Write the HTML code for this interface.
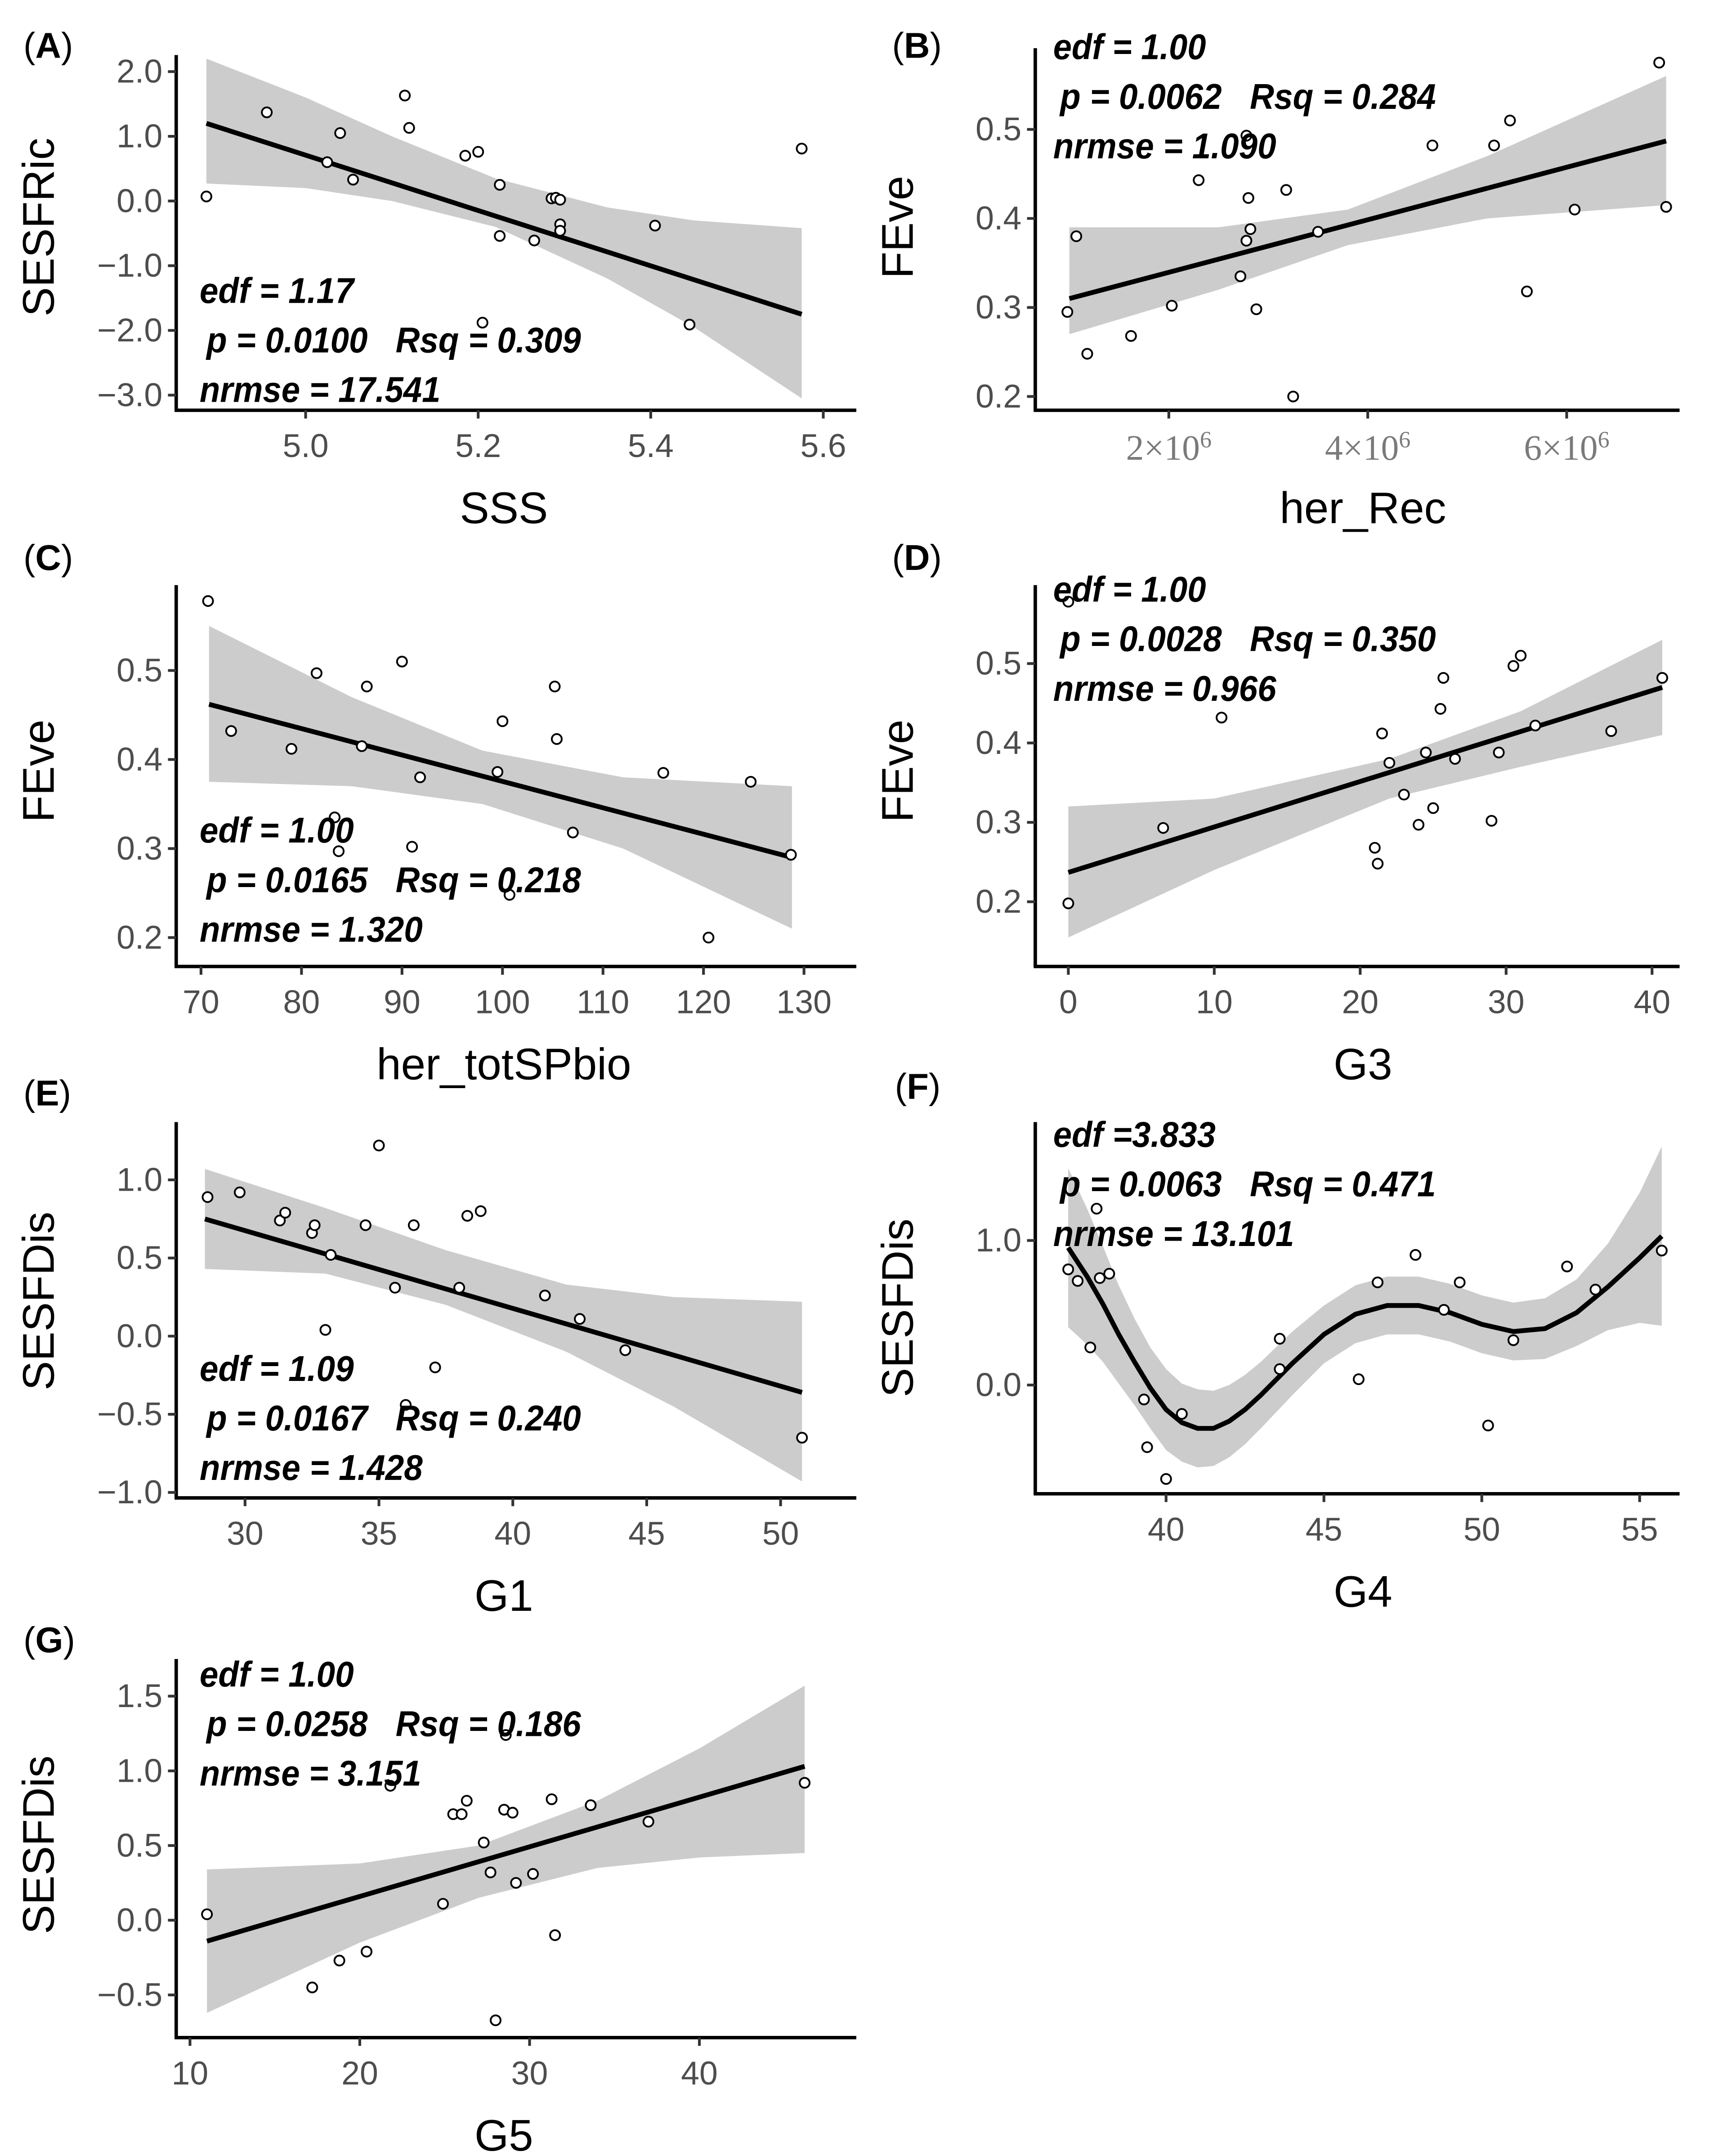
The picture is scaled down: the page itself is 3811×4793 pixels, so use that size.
<!DOCTYPE html>
<html><head><meta charset="utf-8">
<style>
html,body{margin:0;padding:0;background:#fff;}
svg{display:block;}
.tick{font-family:"Liberation Sans",sans-serif;font-size:24px;fill:#4d4d4d;}
.serif{font-family:"Liberation Serif",serif;font-size:26px;fill:#7a7a7a;}
.title{font-family:"Liberation Sans",sans-serif;font-size:32px;fill:#000;}
.plab{font-family:"Liberation Sans",sans-serif;font-size:26px;fill:#000;}
.ann{font-family:"Liberation Sans Narrow","Liberation Sans",sans-serif;font-size:26px;font-weight:bold;font-style:italic;fill:#000;white-space:pre;}
</style></head>
<body>
<svg id="fig" width="3811" height="4793" viewBox="0 0 1245 1566" preserveAspectRatio="none" xmlns="http://www.w3.org/2000/svg"></svg>
<script>
// Panel A data
const aX=[4.885,4.955,5.025,5.04,5.055,5.115,5.12,5.185,5.2,5.205,5.225,5.225,5.265,5.285,5.29,5.295,5.295,5.295,5.405,5.445,5.575];
const aY=[0.07,1.37,0.6,1.05,0.33,1.63,1.13,0.7,0.76,-1.88,0.25,-0.54,-0.61,0.04,0.05,0.02,-0.36,-0.46,-0.38,-1.91,0.81];
const aFitX=[4.885,5.575];const aFitY=[1.2,-1.75];
const aBandX=[4.885,5.0,5.1,5.22,5.35,5.45,5.575];
const aBandHi=[2.2,1.6,1.0,0.35,-0.1,-0.3,-0.42];
const aBandLo=[0.27,0.2,0.0,-0.4,-1.2,-1.95,-3.05];
// Panel B data (x in millions)
const bX=[0.98,1.07,1.18,1.62,2.03,2.3,2.72,2.78,2.78,2.8,2.82,2.88,3.18,3.25,3.5,4.65,5.27,5.43,5.6,6.08,6.93,7.0];
const bY=[0.295,0.38,0.248,0.268,0.302,0.443,0.335,0.493,0.375,0.423,0.388,0.298,0.432,0.2,0.385,0.482,0.482,0.51,0.318,0.41,0.575,0.413];
const bFitX=[1.0,7.0];const bFitY=[0.31,0.487];
const bBandX=[1.0,2.5,3.8,5.2,7.0];
const bBandHi=[0.39,0.39,0.41,0.47,0.56];
const bBandLo=[0.27,0.32,0.37,0.4,0.415];
// Panel C data
const cX=[70.7,73,79,81.5,83.3,83.7,86,86.5,90,91,91.8,99.5,100,100.7,105.2,105.4,107,116,120.5,124.7,128.7];
const cY=[0.578,0.432,0.412,0.497,0.335,0.297,0.415,0.482,0.51,0.302,0.38,0.386,0.443,0.248,0.482,0.423,0.318,0.385,0.2,0.375,0.293];
const cFitX=[70.8,128.8];const cFitY=[0.462,0.29];
const cBandX=[70.8,85,98,112,128.8];
const cBandHi=[0.55,0.47,0.41,0.38,0.37];
const cBandLo=[0.375,0.37,0.35,0.3,0.21];
// Panel D data
const dX=[0,0,6.5,10.5,21,21.2,21.5,22,23,24,24.5,25,25.5,25.7,26.5,29,29.5,30.5,31,32,37.2,40.7];
const dY=[0.578,0.198,0.293,0.432,0.268,0.248,0.412,0.375,0.335,0.297,0.388,0.318,0.443,0.482,0.38,0.302,0.388,0.497,0.51,0.422,0.415,0.482];
const dFitX=[0,40.7];const dFitY=[0.237,0.47];
const dBandX=[0,10,22,31,40.7];
const dBandHi=[0.32,0.33,0.38,0.44,0.53];
const dBandLo=[0.155,0.24,0.33,0.37,0.41];
// Panel E data
const eX=[28.6,29.8,31.3,31.5,32.5,32.6,33,33.2,34.5,35,35.6,36,36.3,37.1,38,38.3,38.8,41.2,42.5,44.2,50.8];
const eY=[0.89,0.92,0.74,0.79,0.66,0.71,0.04,0.52,0.71,1.22,0.31,-0.44,0.71,-0.2,0.31,0.77,0.8,0.26,0.11,-0.09,-0.65];
const eFitX=[28.5,50.8];const eFitY=[0.75,-0.36];
const eBandX=[28.5,33,37.5,42,46,50.8];
const eBandHi=[1.07,0.82,0.55,0.33,0.25,0.22];
const eBandLo=[0.43,0.4,0.2,-0.1,-0.45,-0.93];
// Panel F data
const fX=[36.9,37.2,37.6,37.8,37.9,38.2,39.3,39.4,40,40.5,43.6,43.6,46.1,46.7,47.9,48.8,49.3,50.2,51,52.7,53.6,55.7];
const fY=[0.8,0.72,0.26,1.22,0.74,0.77,-0.1,-0.43,-0.65,-0.2,0.32,0.11,0.04,0.71,0.9,0.52,0.71,-0.28,0.31,0.82,0.66,0.93];
const fFitX=[36.9,37.5,38,38.5,39,39.5,40,40.5,41,41.5,42,42.5,43,44,45,46,47,48,49,50,51,52,53,54,55,55.7];
const fFitY=[0.95,0.75,0.56,0.35,0.16,-0.02,-0.17,-0.26,-0.3,-0.3,-0.25,-0.17,-0.07,0.15,0.35,0.49,0.55,0.55,0.5,0.42,0.37,0.39,0.5,0.68,0.88,1.03];
const fHalf=[0.55,0.47,0.4,0.34,0.3,0.28,0.28,0.27,0.27,0.26,0.25,0.24,0.23,0.22,0.2,0.2,0.2,0.2,0.2,0.2,0.2,0.21,0.23,0.3,0.45,0.62];
// Panel G data
const gX=[11,17.2,18.8,20.4,21.8,24.9,25.5,26,26.3,27.3,27.7,28,28.5,28.6,29,29.2,30.2,31.3,31.5,33.6,37,46.2];
const gY=[0.04,-0.45,-0.27,-0.21,0.9,0.11,0.71,0.71,0.8,0.52,0.32,-0.67,0.74,1.24,0.72,0.25,0.31,0.81,-0.1,0.77,0.66,0.92];
const gFitX=[11,46.2];const gFitY=[-0.14,1.03];
const gBandX=[11,20,27,34,40,46.2];
const gBandHi=[0.34,0.38,0.5,0.8,1.15,1.57];
const gBandLo=[-0.62,-0.15,0.15,0.35,0.42,0.45];

const NS="http://www.w3.org/2000/svg";
const svg=document.getElementById('fig');
function mk(tag,attrs,parent,text){const e=document.createElementNS(NS,tag);for(const k in attrs)e.setAttribute(k,attrs[k]);if(text!==undefined)e.textContent=text;(parent||svg).appendChild(e);return e;}
function lin(d0,d1,r0,r1){return v=>r0+(v-d0)*(r1-r0)/(d1-d0);}

function panel(p){
  const g=mk('g',{});
  
  
  const sx=lin(p.xd[0],p.xd[1],p.xr[0],p.xr[1]);
  const sy=lin(p.yd[0],p.yd[1],p.yr[0],p.yr[1]);
  let pts=[];
  if(p.half){
    for(let i=0;i<p.fitX.length;i++)pts.push(sx(p.fitX[i])+','+sy(p.fitY[i]+p.half[i]));
    for(let i=p.fitX.length-1;i>=0;i--)pts.push(sx(p.fitX[i])+','+sy(p.fitY[i]-p.half[i]));
  }else{
    for(let i=0;i<p.bandX.length;i++)pts.push(sx(p.bandX[i])+','+sy(p.bandHi[i]));
    for(let i=p.bandX.length-1;i>=0;i--)pts.push(sx(p.bandX[i])+','+sy(p.bandLo[i]));
  }
  const band=mk('polygon',{points:pts.join(' '),fill:'#cccccc'},g);
  
  
  let d='';
  for(let i=0;i<p.fitX.length;i++)d+=(i?'L':'M')+sx(p.fitX[i])+' '+sy(p.fitY[i]);
  const fit=mk('path',{d:d,fill:'none',stroke:'#000','stroke-width':3.5,'stroke-linejoin':'round'},g);
  
  
  for(let i=0;i<p.x.length;i++){
    const c=mk('circle',{cx:sx(p.x[i]),cy:sy(p.y[i]),r:3.6,fill:'#fff',stroke:'#000','stroke-width':1.3},g);
    
    
  }
  const ax=p.axis;
  const yl=mk('line',{x1:ax.x0,y1:ax.yTop,x2:ax.x0,y2:ax.y0,stroke:'#000','stroke-width':2.5},g);
  
  
  const xl=mk('line',{x1:ax.x0-1.2,y1:ax.y0,x2:ax.xRight,y2:ax.y0,stroke:'#000','stroke-width':2.5},g);
  
  
  for(let i=0;i<p.yt.length;i++){
    const y=sy(p.yt[i]);
    mk('line',{x1:ax.x0-6,y1:y,x2:ax.x0,y2:y,stroke:'#333','stroke-width':2},g);
    const t=mk('text',{x:ax.x0-10,y:y+8,'text-anchor':'end',class:'tick'},g,p.ytl[i]);
    
    
  }
  for(let i=0;i<p.xt.length;i++){
    const x=sx(p.xt[i]);
    mk('line',{x1:x,y1:ax.y0,x2:x,y2:ax.y0+6,stroke:'#333','stroke-width':2},g);
    let t;
    if(p.sci){
      t=mk('text',{x:x,y:ax.y0+36,'text-anchor':'middle',class:'serif'},g);
      mk('tspan',{},t,p.xtl[i]+'\u00d710');
      mk('tspan',{dy:-9,'font-size':'17'},t,'6');
    }else{
      t=mk('text',{x:x,y:ax.y0+34,'text-anchor':'middle',class:'tick'},g,p.xtl[i]);
    }
    
    
  }
  const yt=mk('text',{x:0,y:0,transform:'translate('+(ax.x0-89)+','+p.yTitleY+') rotate(-90)','text-anchor':'middle',class:'title'},g,p.ytitle);
  
  
  const xt=mk('text',{x:ax.x0+238,y:ax.y0+82,'text-anchor':'middle',class:'title'},g,p.xtitle);
  
  
  const pl=mk('text',{x:p.lab[0],y:p.lab[1],class:'plab'},g);
  mk('tspan',{},pl,'(');mk('tspan',{'font-weight':'bold'},pl,p.id.toUpperCase());mk('tspan',{},pl,')');
  
  
  for(let i=0;i<3;i++){
    const a=mk('text',{x:p.ann[0]+(i===1?5:0),y:p.ann[1]+i*36,class:'ann',textLength:p.annW[i],lengthAdjust:'spacingAndGlyphs'},g,p.annT[i]);
    
    
  }
}

panel({id:'a',x:aX,y:aY,fitX:aFitX,fitY:aFitY,bandX:aBandX,bandHi:aBandHi,bandLo:aBandLo,
 xd:[5.0,5.6],xr:[222,598],yd:[2,-3],yr:[52,287],axis:{x0:128,y0:298,yTop:40,xRight:622},
 yt:[2,1,0,-1,-2,-3],ytl:['2.0','1.0','0.0','\u22121.0','\u22122.0','\u22123.0'],
 xt:[5.0,5.2,5.4,5.6],xtl:['5.0','5.2','5.4','5.6'],ytitle:'SESFRic',xtitle:'SSS',yTitleY:165,
 lab:[17,42],ann:[145,220],annT:['edf = 1.17','p = 0.0100   Rsq = 0.309','nrmse = 17.541'],annW:[112,272,175]});
panel({id:'b',x:bX,y:bY,fitX:bFitX,fitY:bFitY,bandX:bBandX,bandHi:bBandHi,bandLo:bBandLo,sci:true,
 xd:[2,6],xr:[849,1138],yd:[0.5,0.2],yr:[94,288],axis:{x0:752,y0:298,yTop:35,xRight:1220},
 yt:[0.5,0.4,0.3,0.2],ytl:['0.5','0.4','0.3','0.2'],
 xt:[2,4,6],xtl:['2','4','6'],ytitle:'FEve',xtitle:'her_Rec',yTitleY:165,
 lab:[648,42],ann:[765,43],annT:['edf = 1.00','p = 0.0062   Rsq = 0.284','nrmse = 1.090'],annW:[111,273,162]});
panel({id:'c',x:cX,y:cY,fitX:cFitX,fitY:cFitY,bandX:cBandX,bandHi:cBandHi,bandLo:cBandLo,
 xd:[70,130],xr:[146,584],yd:[0.5,0.2],yr:[487,681],axis:{x0:128,y0:702,yTop:425,xRight:622},
 yt:[0.5,0.4,0.3,0.2],ytl:['0.5','0.4','0.3','0.2'],
 xt:[70,80,90,100,110,120,130],xtl:['70','80','90','100','110','120','130'],ytitle:'FEve',xtitle:'her_totSPbio',yTitleY:560,
 lab:[17,414],ann:[145,612],annT:['edf = 1.00','p = 0.0165   Rsq = 0.218','nrmse = 1.320'],annW:[112,272,162]});
panel({id:'d',x:dX,y:dY,fitX:dFitX,fitY:dFitY,bandX:dBandX,bandHi:dBandHi,bandLo:dBandLo,
 xd:[0,40],xr:[776,1200],yd:[0.5,0.2],yr:[482,655],axis:{x0:752,y0:702,yTop:425,xRight:1220},
 yt:[0.5,0.4,0.3,0.2],ytl:['0.5','0.4','0.3','0.2'],
 xt:[0,10,20,30,40],xtl:['0','10','20','30','40'],ytitle:'FEve',xtitle:'G3',yTitleY:560,
 lab:[648,414],ann:[765,437],annT:['edf = 1.00','p = 0.0028   Rsq = 0.350','nrmse = 0.966'],annW:[111,273,162]});
panel({id:'e',x:eX,y:eY,fitX:eFitX,fitY:eFitY,bandX:eBandX,bandHi:eBandHi,bandLo:eBandLo,
 xd:[30,50],xr:[178,567],yd:[1,-1],yr:[857,1084],axis:{x0:128,y0:1088,yTop:815,xRight:622},
 yt:[1,0.5,0,-0.5,-1],ytl:['1.0','0.5','0.0','\u22120.5','\u22121.0'],
 xt:[30,35,40,45,50],xtl:['30','35','40','45','50'],ytitle:'SESFDis',xtitle:'G1',yTitleY:945,
 lab:[17,803],ann:[145,1003],annT:['edf = 1.09','p = 0.0167   Rsq = 0.240','nrmse = 1.428'],annW:[112,272,162]});
panel({id:'f',x:fX,y:fY,fitX:fFitX,fitY:fFitY,half:fHalf,
 xd:[40,55],xr:[847,1191],yd:[1,0],yr:[901,1006],axis:{x0:752,y0:1085,yTop:815,xRight:1220},
 yt:[1,0],ytl:['1.0','0.0'],
 xt:[40,45,50,55],xtl:['40','45','50','55'],ytitle:'SESFDis',xtitle:'G4',yTitleY:950,
 lab:[650,798],ann:[765,833],annT:['edf =3.833','p = 0.0063   Rsq = 0.471','nrmse = 13.101'],annW:[118,273,175]});
panel({id:'g',x:gX,y:gY,fitX:gFitX,fitY:gFitY,bandX:gBandX,bandHi:gBandHi,bandLo:gBandLo,
 xd:[10,40],xr:[138,508],yd:[1.5,-0.5],yr:[1232,1449],axis:{x0:128,y0:1480,yTop:1205,xRight:622},
 yt:[1.5,1,0.5,0,-0.5],ytl:['1.5','1.0','0.5','0.0','\u22120.5'],
 xt:[10,20,30,40],xtl:['10','20','30','40'],ytitle:'SESFDis',xtitle:'G5',yTitleY:1340,
 lab:[17,1200],ann:[145,1225],annT:['edf = 1.00','p = 0.0258   Rsq = 0.186','nrmse = 3.151'],annW:[112,272,161]});
</script>
</body></html>
